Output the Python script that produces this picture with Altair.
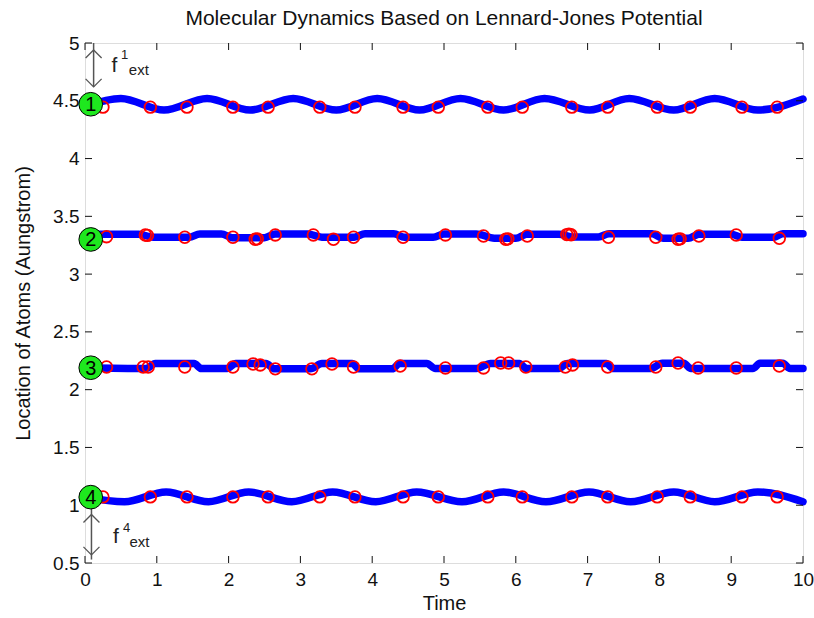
import altair as alt
import pandas as pd

# ---------------- data ----------------
# Blue trajectories: key points (time, location) for each atom
atom1_t = [0.0, 0.5, 1.1, 1.7, 2.3, 2.9, 3.5, 4.07, 4.66, 5.23, 5.83, 6.4, 7.03, 7.58, 8.2, 8.77, 9.37, 10.0]
atom1_y = [4.45, 4.52, 4.42, 4.52, 4.42, 4.52, 4.42, 4.52, 4.42, 4.52, 4.42, 4.52, 4.42, 4.52, 4.42, 4.52, 4.42, 4.515]

atom2_t = [0.0, 0.2, 0.75, 0.95, 1.45, 1.6, 1.9, 2.05, 2.5, 2.65, 3.1, 3.3, 3.75, 3.9, 4.3, 4.45,
           4.85, 5.0, 5.45, 5.7, 6.0, 6.15, 6.6, 6.8, 7.15, 7.3, 7.9, 8.05, 8.4, 8.55, 9.0, 9.15, 9.6, 9.72, 10.0]
atom2_y = [3.33, 3.345, 3.345, 3.318, 3.318, 3.348, 3.348, 3.315, 3.315, 3.348, 3.348, 3.32, 3.32, 3.35, 3.35, 3.318,
           3.318, 3.348, 3.348, 3.31, 3.31, 3.345, 3.345, 3.322, 3.322, 3.35, 3.35, 3.31, 3.31, 3.345, 3.345, 3.32, 3.32, 3.35, 3.35]

atom3_t = [0.0, 0.85, 0.98, 1.52, 1.62, 1.98, 2.1, 2.52, 2.64, 3.14, 3.3, 3.72, 3.82, 4.28, 4.38, 4.76, 4.88,
           5.45, 5.65, 6.05, 6.15, 6.6, 6.72, 7.26, 7.36, 7.88, 8.04, 8.34, 8.44, 9.3, 9.4, 9.72, 9.82, 10.0]
atom3_y = [2.19, 2.183, 2.226, 2.226, 2.183, 2.183, 2.226, 2.226, 2.18, 2.18, 2.226, 2.226, 2.18, 2.18, 2.226, 2.226, 2.183,
           2.183, 2.226, 2.226, 2.183, 2.183, 2.226, 2.226, 2.183, 2.183, 2.228, 2.228, 2.183, 2.183, 2.228, 2.228, 2.183, 2.183]

atom4_t = [0.0, 0.55, 1.13, 1.72, 2.28, 2.88, 3.45, 4.05, 4.62, 5.25, 5.83, 6.42, 7.02, 7.6, 8.2, 8.77, 9.37, 10.0]
atom4_y = [1.07, 1.03, 1.115, 1.03, 1.115, 1.03, 1.115, 1.03, 1.115, 1.03, 1.115, 1.03, 1.115, 1.03, 1.115, 1.03, 1.115, 1.03]

# Red circles (sampled positions)
red1_t = [0.25, 0.91, 1.42, 2.06, 2.55, 3.27, 3.76, 4.43, 4.92, 5.61, 6.09, 6.78, 7.28, 7.97, 8.43, 9.15, 9.64]
red1_y = [4.445] * 17
red4_t = [0.25, 0.91, 1.42, 2.06, 2.55, 3.27, 3.76, 4.43, 4.92, 5.61, 6.09, 6.78, 7.28, 7.97, 8.43, 9.15, 9.64]
red4_y = [1.072] * 17
red2_t = [0.3, 0.84, 0.87, 1.39, 2.06, 2.37, 2.40, 2.65, 3.18, 3.46, 3.74, 4.43, 5.02, 5.55, 5.86, 5.89, 6.16,
          6.71, 6.74, 6.77, 7.29, 7.95, 8.26, 8.29, 8.55, 9.07, 9.67]
red2_y = [3.324, 3.339, 3.335, 3.319, 3.319, 3.301, 3.305, 3.339, 3.339, 3.301, 3.319, 3.319, 3.339, 3.330, 3.301, 3.305, 3.330,
          3.342, 3.345, 3.340, 3.319, 3.319, 3.301, 3.305, 3.330, 3.339, 3.310]
red3_t = [0.3, 0.81, 0.88, 1.39, 2.06, 2.34, 2.44, 2.65, 3.16, 3.44, 3.74, 4.39, 5.02, 5.55, 5.79, 5.9, 6.14,
          6.69, 6.79, 7.28, 7.95, 8.26, 8.54, 9.07, 9.67]
red3_y = [2.196, 2.196, 2.196, 2.196, 2.196, 2.222, 2.214, 2.18, 2.18, 2.222, 2.196, 2.205, 2.188, 2.188, 2.231, 2.231, 2.196,
          2.196, 2.214, 2.196, 2.196, 2.231, 2.188, 2.188, 2.205]

# Green atom markers
green_t = [0.08, 0.08, 0.08, 0.08]
green_y = [4.47, 3.30, 2.19, 1.07]
green_label = ["1", "2", "3", "4"]

# External force arrows
arrow_t = [0.12, 0.09]
arrow_top = [5.0, 0.98]
arrow_bot = [4.62, 0.53]
arrow_up_tip = [4.94, 0.92]
arrow_down_tip = [4.62, 0.57]

# Force labels: f, superscript, subscript
f_t = [0.37, 0.39]
f_y = [4.75, 0.673]
sup_t = [0.50, 0.53]
sup_y = [4.86, 0.77]
sup_label = ["1", "4"]
sub_t = [0.61, 0.62]
sub_y = [4.72, 0.64]

x_ticks = [0, 1, 2, 3, 4, 5, 6, 7, 8, 9, 10]
y_ticks = [0.5, 1, 1.5, 2, 2.5, 3, 3.5, 4, 4.5, 5]

# ---------------- build tables ----------------
rows = []
for name, ts, ys in [("1", atom1_t, atom1_y), ("2", atom2_t, atom2_y),
                     ("3", atom3_t, atom3_y), ("4", atom4_t, atom4_y)]:
    rows += [{"atom": name, "t": a, "y": b} for a, b in zip(ts, ys)]
lines_df = pd.DataFrame(rows)

rrows = []
for ts, ys in [(red1_t, red1_y), (red2_t, red2_y), (red3_t, red3_y), (red4_t, red4_y)]:
    rrows += [{"t": a, "y": b} for a, b in zip(ts, ys)]
red_df = pd.DataFrame(rrows)

green_df = pd.DataFrame({"t": green_t, "y": green_y, "label": green_label})
arrow_df = pd.DataFrame({"t": arrow_t, "top": arrow_top, "bot": arrow_bot,
                         "up": arrow_up_tip, "down": arrow_down_tip})
f_df = pd.DataFrame({"t": f_t, "y": f_y, "label": ["f", "f"]})
sup_df = pd.DataFrame({"t": sup_t, "y": sup_y, "label": sup_label})
sub_df = pd.DataFrame({"t": sub_t, "y": sub_y, "label": ["ext", "ext"]})
xt_df = pd.DataFrame({"v": x_ticks})
yt_df = pd.DataFrame({"v": y_ticks})

W, H = 718, 520
FONT = "Liberation Sans"

xs = alt.Scale(domain=[0, 10], nice=False, zero=False)
ys = alt.Scale(domain=[0.5, 5], nice=False, zero=False)

x_axis = alt.Axis(values=x_ticks, ticks=False, domain=False, grid=False, labelFontSize=19,
                  labelPadding=7, labelColor="#111", title="Time", titleFontSize=20,
                  titleFontWeight="normal", titleColor="#111", titlePadding=4, labelFlush=False,
                  format="~g")
y_axis = alt.Axis(values=y_ticks, ticks=False, domain=False, grid=False, labelFontSize=19,
                  labelPadding=6, labelColor="#111", title="Location of Atoms (Aungstrom)",
                  titleFontSize=20, titleFontWeight="normal", titleColor="#111", titlePadding=19,
                  labelFlush=False, format="~g")

base_lines = alt.Chart(lines_df).mark_line(
    color="#0000ff", strokeWidth=7.5, strokeCap="round", strokeJoin="round", interpolate="monotone"
).encode(
    x=alt.X("t:Q", scale=xs, axis=x_axis),
    y=alt.Y("y:Q", scale=ys, axis=y_axis),
    detail="atom:N",
)

red = alt.Chart(red_df).mark_point(
    shape="circle", filled=False, color="#ff0000", size=135, strokeWidth=1.8, opacity=1
).encode(x=alt.X("t:Q", scale=xs), y=alt.Y("y:Q", scale=ys))

green = alt.Chart(green_df).mark_point(
    shape="circle", filled=True, fill="#1ee81e", stroke="#000", strokeWidth=1, size=560, opacity=1
).encode(x=alt.X("t:Q", scale=xs), y=alt.Y("y:Q", scale=ys))

green_txt = alt.Chart(green_df).mark_text(
    font=FONT, fontSize=20, color="#000", align="center", baseline="middle", dy=1
).encode(x=alt.X("t:Q", scale=xs), y=alt.Y("y:Q", scale=ys), text="label:N")

shaft = alt.Chart(arrow_df).mark_rule(color="#555", strokeWidth=1.5).encode(
    x=alt.X("t:Q", scale=xs), y=alt.Y("top:Q", scale=ys), y2="bot:Q")
up_head = alt.Chart(arrow_df).mark_point(
    shape="M -1 1 L 0 0 L 1 1", filled=False, color="#555", size=256, strokeWidth=1.3, opacity=1
).encode(x=alt.X("t:Q", scale=xs), y=alt.Y("up:Q", scale=ys))
down_head = alt.Chart(arrow_df).mark_point(
    shape="M -1 -1 L 0 0 L 1 -1", filled=False, color="#555", size=256, strokeWidth=1.3, opacity=1
).encode(x=alt.X("t:Q", scale=xs), y=alt.Y("down:Q", scale=ys))

f_txt = alt.Chart(f_df).mark_text(font=FONT, fontSize=21, color="#222", align="left",
                                  baseline="alphabetic").encode(
    x=alt.X("t:Q", scale=xs), y=alt.Y("y:Q", scale=ys), text="label:N")
sup_txt = alt.Chart(sup_df).mark_text(font=FONT, fontSize=13, color="#222", align="left",
                                      baseline="alphabetic").encode(
    x=alt.X("t:Q", scale=xs), y=alt.Y("y:Q", scale=ys), text="label:N")
sub_txt = alt.Chart(sub_df).mark_text(font=FONT, fontSize=15, color="#222", align="left",
                                      baseline="alphabetic").encode(
    x=alt.X("t:Q", scale=xs), y=alt.Y("y:Q", scale=ys), text="label:N")

TK = 7
tick_b = alt.Chart(xt_df).mark_rule(color="#111", strokeWidth=1).encode(
    x=alt.X("v:Q", scale=xs), y=alt.value(H), y2=alt.value(H - TK))
tick_t = alt.Chart(xt_df).mark_rule(color="#111", strokeWidth=1).encode(
    x=alt.X("v:Q", scale=xs), y=alt.value(0), y2=alt.value(TK))
tick_l = alt.Chart(yt_df).mark_rule(color="#111", strokeWidth=1).encode(
    y=alt.Y("v:Q", scale=ys), x=alt.value(0), x2=alt.value(TK))
tick_r = alt.Chart(yt_df).mark_rule(color="#111", strokeWidth=1).encode(
    y=alt.Y("v:Q", scale=ys), x=alt.value(W), x2=alt.value(W - TK))

chart = alt.layer(
    base_lines, red, tick_b, tick_t, tick_l, tick_r,
    shaft, up_head, down_head, f_txt, sup_txt, sub_txt, green, green_txt
).properties(
    width=W, height=H,
    autosize=alt.AutoSizeParams(type="none"),
    padding={"left": 85, "top": 43, "right": 11, "bottom": 55},
    title=alt.Title("Molecular Dynamics Based on Lennard-Jones Potential", fontSize=21,
                    fontWeight="normal", font=FONT, color="#111", offset=5, anchor="middle"),
    background="white",
).configure_view(stroke="#111", strokeWidth=1.3).configure(font=FONT)

chart.save("out.html", embed_options={"renderer": "svg", "actions": False})
